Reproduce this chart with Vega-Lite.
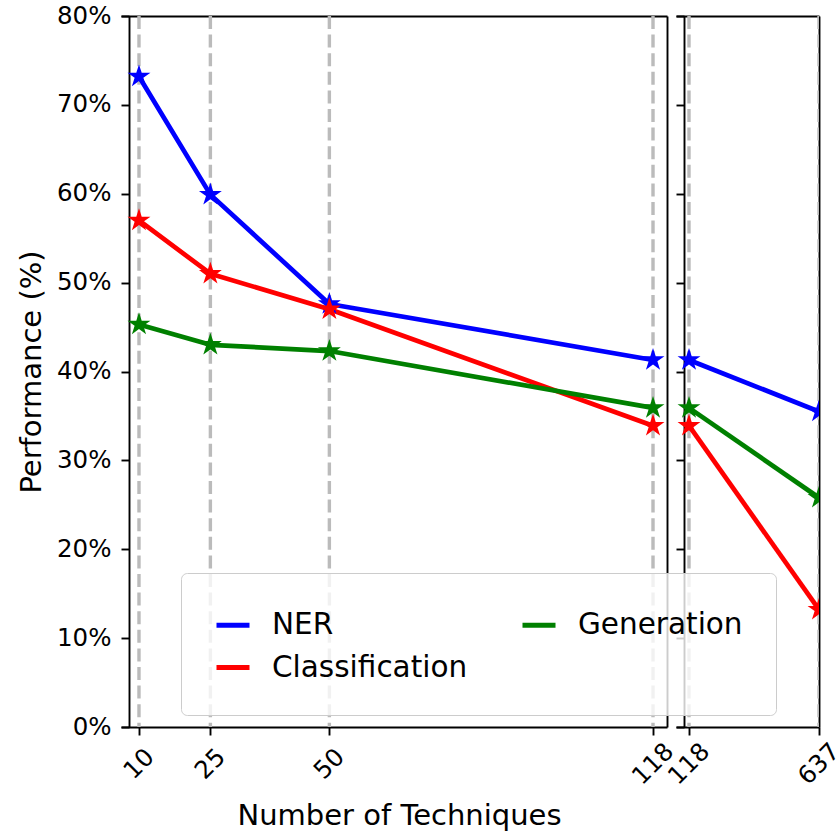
{
  "$schema": "https://vega.github.io/schema/vega-lite/v6.json",
  "width": 698,
  "height": 711,
  "autosize": {"type": "none"},
  "padding": {"left": 121, "top": 16, "right": 17, "bottom": 105},
  "config": {
    "view": {"stroke": null},
    "font": "DejaVu Sans",
    "axis": {
      "grid": false,
      "domainColor": "black",
      "domainWidth": 1.9,
      "tickColor": "black",
      "tickWidth": 1.9,
      "tickSize": 8,
      "labelFont": "DejaVu Sans",
      "labelFontSize": 24.5,
      "labelColor": "black",
      "titleFont": "DejaVu Sans",
      "titleFontSize": 29,
      "titleFontWeight": "normal",
      "titleColor": "black"
    }
  },
  "datasets": {
    "left": [
      {"x": 10, "task": "NER", "value": 73.2},
      {"x": 25, "task": "NER", "value": 59.9},
      {"x": 50, "task": "NER", "value": 47.6},
      {"x": 118, "task": "NER", "value": 41.3},
      {"x": 10, "task": "Classification", "value": 57.0},
      {"x": 25, "task": "Classification", "value": 51.0},
      {"x": 50, "task": "Classification", "value": 47.0},
      {"x": 118, "task": "Classification", "value": 33.9},
      {"x": 10, "task": "Generation", "value": 45.3},
      {"x": 25, "task": "Generation", "value": 43.0},
      {"x": 50, "task": "Generation", "value": 42.3},
      {"x": 118, "task": "Generation", "value": 35.9}
    ],
    "right": [
      {"x": 118, "task": "NER", "value": 41.3},
      {"x": 637, "task": "NER", "value": 35.5},
      {"x": 118, "task": "Classification", "value": 33.9},
      {"x": 637, "task": "Classification", "value": 13.2},
      {"x": 118, "task": "Generation", "value": 35.9},
      {"x": 637, "task": "Generation", "value": 25.8}
    ],
    "leftTicks": [{"x": 10}, {"x": 25}, {"x": 50}, {"x": 118}],
    "rightTicks": [{"x": 118}, {"x": 637}]
  },
  "layer": [
    {
      "resolve": {"axis": {"x": "independent", "y": "independent"}},
      "layer": [
        {
          "data": {"name": "leftTicks"},
          "mark": {"type": "rule", "color": "#bbbbbb", "strokeWidth": 3.4, "strokeDash": [13, 5.6]},
          "encoding": {
            "x": {
              "field": "x", "type": "quantitative",
              "scale": {"domain": [6.22, 120.94], "range": [0, 546], "nice": false, "zero": false},
              "axis": {
                "orient": "bottom", "values": [10, 25, 50, 118],
                "labelAngle": -45, "labelAlign": "center", "labelBaseline": "middle",
                "labelPadding": 29, "labelFlush": false, "labelOverlap": false, "labelBound": false,
                "title": "Number of Techniques", "titlePadding": 13, "titleX": 278
              }
            }
          }
        },
        {
          "data": {"name": "left"},
          "mark": {"type": "line", "strokeWidth": 4.7, "strokeJoin": "round"},
          "encoding": {
            "x": {
              "field": "x", "type": "quantitative",
              "scale": {"domain": [6.22, 120.94], "range": [0, 546], "nice": false, "zero": false},
              "axis": {"orient": "top", "ticks": false, "labels": false, "title": null}
            },
            "y": {
              "field": "value", "type": "quantitative",
              "scale": {"domain": [0, 80], "nice": false},
              "axis": {
                "orient": "left", "offset": -8, "values": [0, 10, 20, 30, 40, 50, 60, 70, 80],
                "labelExpr": "datum.value + '%'", "labelPadding": 10,
                "title": "Performance (%)", "titlePadding": 10
              }
            },
            "color": {
              "field": "task", "type": "nominal",
              "scale": {"domain": ["NER", "Classification", "Generation"], "range": ["#0000ff", "#ff0000", "#008000"]},
              "legend": {
                "orient": "none", "legendX": 60, "legendY": 557, "direction": "vertical", "columns": 2,
                "title": null, "symbolType": "stroke", "symbolSize": 1089, "symbolStrokeWidth": 5,
                "labelFontSize": 29.5, "labelFont": "DejaVu Sans", "labelColor": "black", "labelOffset": 20, "labelLimit": 0,
                "columnPadding": 44, "rowPadding": 8.5, "padding": 33,
                "fillColor": "rgba(255,255,255,0.8)", "strokeColor": "#cccccc", "cornerRadius": 6
              }
            }
          }
        },
        {
          "data": {"name": "left"},
          "mark": {"type": "point", "filled": true, "opacity": 1, "size": 580,
            "shape": "M0,-1L0.2245,-0.309L0.951,-0.309L0.363,0.118L0.588,0.809L0,0.382L-0.588,0.809L-0.363,0.118L-0.951,-0.309L-0.2245,-0.309Z"},
          "encoding": {
            "x": {
              "field": "x", "type": "quantitative",
              "scale": {"domain": [6.22, 120.94], "range": [0, 546], "nice": false, "zero": false},
              "axis": null
            },
            "y": {
              "field": "value", "type": "quantitative",
              "scale": {"domain": [0, 80], "nice": false},
              "axis": {"orient": "right", "offset": -152, "ticks": false, "labels": false, "title": null}
            },
            "color": {
              "field": "task", "type": "nominal",
              "scale": {"domain": ["NER", "Classification", "Generation"], "range": ["#0000ff", "#ff0000", "#008000"]},
              "legend": null
            }
          }
        }
      ]
    },
    {
      "resolve": {"axis": {"x": "independent", "y": "independent"}},
      "layer": [
        {
          "data": {"name": "rightTicks"},
          "mark": {"type": "rule", "color": "#bbbbbb", "strokeWidth": 3.4, "strokeDash": [13, 5.6], "clip": true},
          "encoding": {
            "x": {
              "field": "x", "type": "quantitative",
              "scale": {"domain": [66.1, 637], "range": [555, 698], "nice": false, "zero": false},
              "axis": {
                "orient": "bottom", "values": [118, 637],
                "labelAngle": -45, "labelAlign": "center", "labelBaseline": "middle",
                "labelPadding": 29, "labelFlush": false, "labelOverlap": false, "labelBound": false,
                "title": null
              }
            }
          }
        },
        {
          "data": {"name": "right"},
          "mark": {"type": "line", "strokeWidth": 4.7, "strokeJoin": "round", "clip": true},
          "encoding": {
            "x": {
              "field": "x", "type": "quantitative",
              "scale": {"domain": [66.1, 637], "range": [555, 698], "nice": false, "zero": false},
              "axis": {"orient": "top", "ticks": false, "labels": false, "title": null}
            },
            "y": {
              "field": "value", "type": "quantitative",
              "scale": {"domain": [0, 80], "nice": false},
              "axis": {"orient": "left", "offset": -563, "values": [0, 10, 20, 30, 40, 50, 60, 70, 80], "labels": false, "title": null}
            },
            "color": {
              "field": "task", "type": "nominal",
              "scale": {"domain": ["NER", "Classification", "Generation"], "range": ["#0000ff", "#ff0000", "#008000"]},
              "legend": null
            }
          }
        },
        {
          "data": {"name": "right"},
          "mark": {"type": "point", "filled": true, "opacity": 1, "size": 580, "clip": true,
            "shape": "M0,-1L0.2245,-0.309L0.951,-0.309L0.363,0.118L0.588,0.809L0,0.382L-0.588,0.809L-0.363,0.118L-0.951,-0.309L-0.2245,-0.309Z"},
          "encoding": {
            "x": {
              "field": "x", "type": "quantitative",
              "scale": {"domain": [66.1, 637], "range": [555, 698], "nice": false, "zero": false},
              "axis": null
            },
            "y": {
              "field": "value", "type": "quantitative",
              "scale": {"domain": [0, 80], "nice": false},
              "axis": {"orient": "right", "offset": 0, "ticks": false, "labels": false, "title": null}
            },
            "color": {
              "field": "task", "type": "nominal",
              "scale": {"domain": ["NER", "Classification", "Generation"], "range": ["#0000ff", "#ff0000", "#008000"]},
              "legend": null
            }
          }
        }
      ]
    }
  ],
  "resolve": {"scale": {"x": "independent"}, "axis": {"x": "independent", "y": "independent"}}
}
